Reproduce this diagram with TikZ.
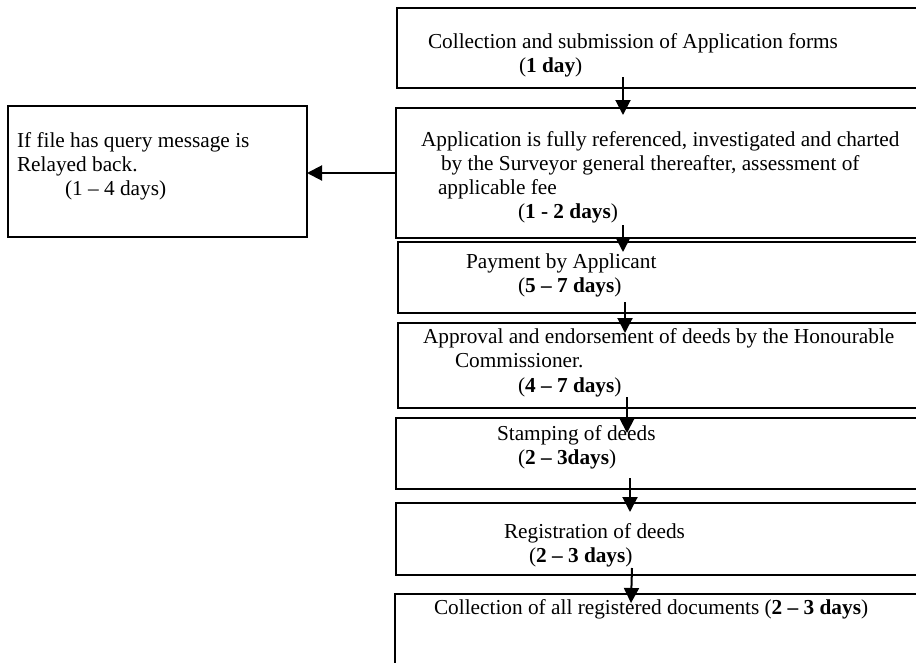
\documentclass[tikz,border=0pt]{standalone}
\usepackage{fontspec}
\setmainfont{Liberation Serif}
\usetikzlibrary{arrows.meta,calc}
\tikzset{
  box/.style={draw, line width=1.8pt, rectangle, anchor=north west, inner sep=0pt, outer sep=0pt},
  txt/.style={anchor=base west, inner sep=0pt, outer sep=0pt, font=\fontsize{21.3}{23}\selectfont},
  arr/.style={-{Triangle[length=15pt,width=15pt]}, line width=2pt}
}
\begin{document}
\begin{tikzpicture}[x=1pt,y=-1pt]
\clip (0,0) rectangle (916,662);
\fill[white] (0,0) rectangle (916,662);
% boxes
\node[box, minimum width=540pt, minimum height=80pt] (b1) at (397,8) {};
\node[box, minimum width=540pt, minimum height=130pt] (b2) at (396,108) {};
\node[box, minimum width=540pt, minimum height=71pt] (b3) at (398,242) {};
\node[box, minimum width=540pt, minimum height=85pt] (b4) at (398,323) {};
\node[box, minimum width=540pt, minimum height=71pt] (b5) at (396,418) {};
\node[box, minimum width=540pt, minimum height=72pt] (b6) at (396,503) {};
\node[box, minimum width=540pt, minimum height=100pt] (b7) at (395,594) {};
\node[box, minimum width=299pt, minimum height=131pt] (q) at (8,106) {};
% texts
\node[txt] (t1a) at (428,48) {Collection and submission of Application forms};
\node[txt] (t1b) at (519,72) {(\textbf{1 day})};
\node[txt] (t2a) at (421,146) {Application is fully referenced, investigated and charted};
\node[txt] (t2b) at (441,170) {by the Surveyor general thereafter, assessment of};
\node[txt] (t2c) at (438,194) {applicable fee};
\node[txt] (t2d) at (518,218) {(\textbf{1 - 2 days})};
\node[txt] (t3a) at (466,268) {Payment by Applicant};
\node[txt] (t3b) at (518,292) {(\textbf{5 – 7 days})};
\node[txt] (t4a) at (423,343) {Approval and endorsement of deeds by the Honourable};
\node[txt] (t4b) at (455,367) {Commissioner.};
\node[txt] (t4c) at (518,392) {(\textbf{4 – 7 days})};
\node[txt] (t5a) at (497,440) {Stamping of deeds};
\node[txt] (t5b) at (518,464) {(\textbf{2 – 3days})};
\node[txt] (t6a) at (504,538) {Registration of deeds};
\node[txt] (t6b) at (529,562) {(\textbf{2 – 3 days})};
\node[txt] (t7) at (434,614) {Collection of all registered documents (\textbf{2 – 3 days})};
\node[txt] (qa) at (17,147) {If file has query message is};
\node[txt] (qb) at (17,171) {Relayed back.};
\node[txt] (qc) at (65,195) {(1 – 4 days)};
% arrows
\draw[arr] ($(b1.south west)+(226,-11)$) -- ($(b2.north west)+(227,7)$);
\draw[arr] ($(b2.south west)+(227,-13)$) -- ($(b3.north west)+(225,10)$);
\draw[arr] ($(b3.south west)+(227,-11)$) -- ($(b4.north west)+(227,10)$);
\draw[arr] ($(b4.south west)+(229,-11)$) -- ($(b5.north west)+(231,15)$);
\draw[arr] ($(b5.south west)+(234,-11)$) -- ($(b6.north west)+(234,9)$);
\draw[arr] ($(b6.south west)+(236,-7)$) -- ($(b7.north west)+(236,9)$);
\draw[arr] (b2.west) -- (q.east |- b2.west);
\end{tikzpicture}
\end{document}
